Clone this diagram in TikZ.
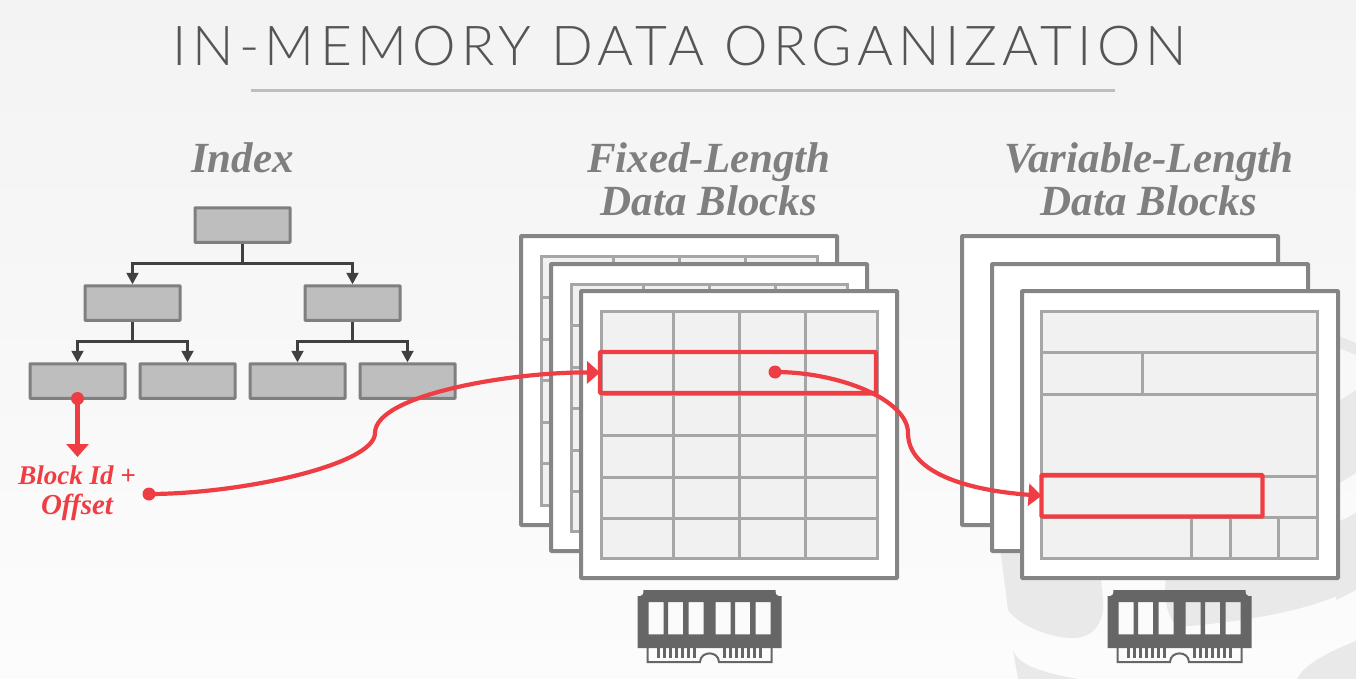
\documentclass[tikz,border=0pt]{standalone}
\usepackage{fontspec}
\usetikzlibrary{arrows.meta}
\newfontfamily\titlef[LetterSpace=9.5]{Lato Light}
\newfontfamily\headf{Liberation Serif Bold Italic}
\definecolor{redc}{HTML}{EE3E44}
\definecolor{framec}{HTML}{858585}
\definecolor{gridc}{HTML}{A6A6A6}
\definecolor{cellc}{HTML}{F1F1F1}
\definecolor{boxf}{HTML}{BEBEBE}
\definecolor{boxd}{HTML}{7F7F7F}
\definecolor{arrc}{HTML}{404040}
\definecolor{headc}{HTML}{7F7F7F}
\definecolor{ramc}{HTML}{666666}
\definecolor{wm}{HTML}{E9E9E9}
\definecolor{titlec}{HTML}{555555}
\definecolor{bgtop}{HTML}{F3F3F3}
\definecolor{bgbot}{HTML}{FCFCFC}
\tikzset{
  x=1pt,y=-1pt,
  frame/.style={draw=framec,line width=4pt,fill=white,rounded corners=0.8pt},
  grid/.style={draw=gridc,line width=3pt},
  tbl/.style={draw=gridc,line width=3pt,fill=cellc},
  tnode/.style={draw=boxd,line width=3pt,fill=boxf,rectangle,minimum width=95pt,minimum height=34.5pt,inner sep=0pt,outer sep=1.5pt,rounded corners=0.6pt},
  tree/.style={draw=arrc,line width=2.1pt,-{Triangle[length=11.5pt,width=12pt]}},
  treeline/.style={draw=arrc,line width=2.4pt},
  redl/.style={draw=redc,line width=4.2pt},
  redbox/.style={draw=redc,line width=4.2pt,rounded corners=0.8pt,inner sep=0pt,outer sep=0pt,anchor=north west},
  redtip/.style={-{Triangle[length=13pt,width=22pt]}},
  head/.style={text=headc,font=\headf\fontsize{43}{46}\selectfont,inner sep=0pt,anchor=base},
  redtext/.style={text=redc,inner sep=0pt,anchor=base},
  dot/.style={circle,fill=redc,minimum size=13pt,inner sep=0pt},
}
\newcommand{\ramchip}[1]{%
  \begin{scope}[shift={(#1,0)}]
    \fill[ramc,even odd rule]
      (-72,596) -- (-69,596) .. controls (-66,596) and (-66,593) .. (-66,590) -- (66,590) .. controls (66,593) and (66,596) .. (69,596) -- (72,596) -- (72,648) -- (-72,648) -- cycle
      (-61,602) rectangle (-46,634.3)
      (-41.5,602) rectangle (-26.5,634.3)
      (-21,602) rectangle (-6,634.3)
      (6,602) rectangle (21,634.3)
      (25.5,602) rectangle (40.5,634.3)
      (46,602) rectangle (61,634.3);
    \draw[ramc,line width=2pt]
      (-62,648) -- (-62,662) -- (-9.5,662)
      .. controls (-9,650.5) and (9,650.5) .. (9.5,662) -- (62,662) -- (62,648);
    \foreach \t in {-51,-45,-39,-33,-27,-21,-15,15,21,27,33,39,45,51}
      \draw[ramc,line width=2.2pt] (\t,648) -- (\t,657.5);
  \end{scope}}
\begin{document}
\begin{tikzpicture}
\useasboundingbox (0,0) rectangle (1356,679);
\shade[top color=bgtop,bottom color=bgbot] (0,0) rectangle (1356,679);
% watermark
\fill[wm] (1000,545) -- (1003,570) -- (1008,610) .. controls (1018,625) and (1050,638) .. (1073,638) .. controls (1095,638) and (1105,620) .. (1103,600) -- (1100,570) -- cycle;
\fill[wm] (1167,570) .. controls (1163,590) and (1165,615) .. (1177,627) .. controls (1240,622) and (1310,612) .. (1356,587) -- (1356,570) -- cycle;
\fill[wm] (1336,403) -- (1356,390) -- (1356,473) -- (1336,485) -- cycle;
\fill[wm] (1336,335) -- (1356,343) -- (1356,355) -- (1336,347) -- cycle;
\fill[wm] (1336,523) -- (1356,513) -- (1356,590) -- (1336,600) -- cycle;
\fill[wm] (1297,679) .. controls (1302,668) and (1320,655) .. (1356,641) -- (1356,679) -- cycle;
\fill[wm] (1013,650) .. controls (1018,665) and (1040,672) .. (1078,679) -- (1018,679) -- cycle;
% title
\node[inner sep=0pt,anchor=base,text=titlec] (title) at (680,65.5) {\titlef\fontsize{55}{60}\selectfont IN-MEMORY DATA ORGANIZATION};
\coordinate (ruleL) at (251,90.5);
\coordinate (ruleR) at (1115,90.5);
\draw[draw=boxf,line width=2.6pt] (ruleL) -- (ruleR);
% headings
\node[head] (hIndex) at (242.5,172) {Index};
\node[head] (hFixedA) at (709,172) {Fixed-Length};
\node[head] (hFixedB) at (709,215) {Data Blocks};
\node[head] (hVarA) at (1149,172) {Variable-Length};
\node[head] (hVarB) at (1149,215) {Data Blocks};
% tree
\node[tnode] (root) at (242.5,225) {};
\node[tnode] (m1) at (132.5,303) {};
\node[tnode] (m2) at (352.5,303) {};
\node[tnode] (l1) at (77.5,381) {};
\node[tnode] (l2) at (187.5,381) {};
\node[tnode] (l3) at (297.5,381) {};
\node[tnode] (l4) at (407.5,381) {};
\coordinate (j0) at (242.5,263.5);
\coordinate (j1) at (132.5,341.5);
\coordinate (j2) at (352.5,341.5);
\draw[treeline] (root.south) -- (j0);
\draw[tree] (j0) -| (m1.north);
\draw[tree] (j0) -| (m2.north);
\draw[treeline] (m1.south) -- (j1);
\draw[tree] (j1) -| (l1.north);
\draw[tree] (j1) -| (l2.north);
\draw[treeline] (m2.south) -- (j2);
\draw[tree] (j2) -| (l3.north);
\draw[tree] (j2) -| (l4.north);
% fixed stacks
\foreach \dx/\dy/\b in {0/0/525,30/28/551,60/55/578}{
  \path[frame] (521+\dx,236+\dy) rectangle (837+\dx,\b);
  \begin{scope}
    \clip (521+\dx,236+\dy) rectangle (837+\dx,\b-1.5);
    \path[tbl] (541+\dx,256+\dy) rectangle (817+\dx,\b-20);
    \foreach \v in {73,139,205} \draw[grid] (541+\dx+\v-1,256+\dy) -- (541+\dx+\v-1,\b-20);
    \foreach \h in {41,83,124,166,207} \draw[grid] (541+\dx,256+\dy+\h) -- (817+\dx,256+\dy+\h);
  \end{scope}
}
% variable stacks
\path[frame] (962,236) rectangle (1278,525);
\path[frame] (992,264) rectangle (1308,551);
\path[frame] (1022,291) rectangle (1338,578);
\path[tbl] (1041,311) rectangle (1317,558);
\foreach \h in {352,394,476,517} \draw[grid] (1041,\h) -- (1317,\h);
\draw[grid] (1142,352) -- (1142,394);
\foreach \v in {1191,1230,1278} \draw[grid] (\v,517) -- (\v,558);
% RAM
\ramchip{709.5}
\ramchip{1179.5}
% red
\node[redbox,minimum width=276pt,minimum height=41pt] (rowA) at (600,352) {};
\node[redbox,minimum width=221pt,minimum height=41.5pt] (rowB) at (1041.5,475) {};
\node[dot] (dotLeaf) at (77.5,398.5) {};
\node[dot] (dotBlock) at (149,494) {};
\node[dot] (dotRow) at (775,372) {};
\node[redtext,font=\headf\fontsize{27}{31}\selectfont] (blockA) at (77,484) {Block Id +};
\node[redtext,font=\headf\fontsize{29}{31}\selectfont] (blockB) at (77,514) {Of{}fset};
\coordinate (tipLeaf) at (77.5,457);
\draw[redl,redtip] (dotLeaf.center) -- (tipLeaf);
\draw[redl,redtip] (dotBlock.center) .. controls (240,494) and (375,465) .. (375,433)
   .. controls (375,395) and (510,372) .. (rowA.west);
\draw[redl,redtip] (dotRow.center) .. controls (840,372) and (908,400) .. (908,433)
   .. controls (908,472) and (965,490) .. (rowB.west);
\end{tikzpicture}
\end{document}
